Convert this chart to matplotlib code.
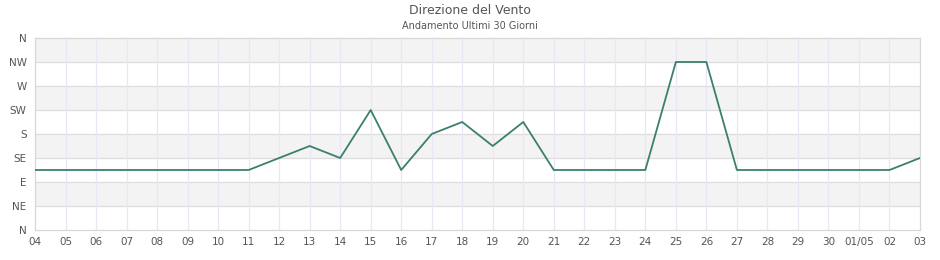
import matplotlib
matplotlib.use("Agg")
import matplotlib.pyplot as plt

days = ["04", "05", "06", "07", "08", "09", "10", "11", "12", "13", "14", "15",
        "16", "17", "18", "19", "20", "21", "22", "23", "24", "25", "26", "27",
        "28", "29", "30", "01/05", "02", "03"]
direction = [112.5, 112.5, 112.5, 112.5, 112.5, 112.5, 112.5, 112.5, 135, 157.5,
             135, 225, 112.5, 180, 202.5, 157.5, 202.5, 112.5, 112.5, 112.5,
             112.5, 315, 315, 112.5, 112.5, 112.5, 112.5, 112.5, 112.5, 135]
compass = ["N", "NE", "E", "SE", "S", "SW", "W", "NW", "N"]
compass_deg = [0, 45, 90, 135, 180, 225, 270, 315, 360]

plt.rcParams["font.family"] = "DejaVu Sans"
fig = plt.figure(figsize=(9.4, 2.6), dpi=100)
ax = fig.add_axes([35 / 940, 30 / 260, 885 / 940, 192 / 260])

x = list(range(len(days)))

# alternating horizontal bands
for i in range(len(compass_deg) - 1):
    if i % 2 == 1:
        ax.axhspan(compass_deg[i], compass_deg[i + 1], color="#f3f3f3", lw=0, zorder=0)
for d in compass_deg[1:-1]:
    ax.axhline(d, color="#dcdcdc", lw=0.9, zorder=1)
for xi in x[1:-1]:
    ax.axvline(xi, color="#e8e6f8", lw=0.9, zorder=1)

ax.plot(x, direction, color="#3b806b", lw=1.3, zorder=3)

ax.set_xlim(0, len(days) - 1)
ax.set_ylim(0, 360)
ax.set_xticks(x)
ax.set_xticklabels(days)
ax.set_yticks(compass_deg)
ax.set_yticklabels(compass)
ax.tick_params(axis="both", length=0, labelsize=7.5, colors="#555555")
ax.tick_params(axis="x", pad=5)
ax.tick_params(axis="y", pad=6)
for s in ax.spines.values():
    s.set_color("#d8d8d8")
    s.set_linewidth(0.9)

fig.text(0.5, 1 - 11 / 260, "Direzione del Vento", ha="center", va="center",
         fontsize=9, color="#555555")
fig.text(0.5, 1 - 26 / 260, "Andamento Ultimi 30 Giorni", ha="center", va="center",
         fontsize=7, color="#555555")

fig.savefig("out.png", dpi=100)
